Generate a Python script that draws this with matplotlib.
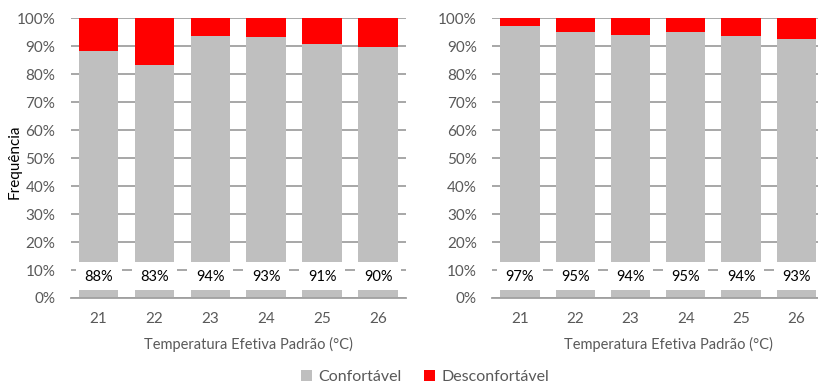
import matplotlib
matplotlib.use("Agg")
import matplotlib.pyplot as plt
import numpy as np

plt.rcParams['font.family'] = ['Lato', 'DejaVu Sans']

categories = ["21", "22", "23", "24", "25", "26"]
conf_left = [88.3, 83.3, 93.7, 93.3, 90.6, 89.6]
conf_right = [97.3, 95.2, 93.8, 95.0, 93.7, 92.6]
yticks = [0, 10, 20, 30, 40, 50, 60, 70, 80, 90, 100]
ytick_labels = [f"{v}%" for v in yticks]

GREY = "#BFBFBF"
RED = "#FF0000"
GRID = "#A0A0A0"
TXT = "#595959"

fig = plt.figure(figsize=(8.18, 3.85), dpi=100)
ax1 = fig.add_axes([0.0864, 0.226, 0.410, 0.727])
ax2 = fig.add_axes([0.6018, 0.226, 0.4056, 0.727])

def draw(ax, conf):
    x = np.arange(len(categories))
    conf = np.array(conf)
    disc = 100 - conf
    ax.bar(x, conf, width=0.71, color=GREY, zorder=2, label="Confortável")
    ax.bar(x, disc, bottom=conf, width=0.71, color=RED, zorder=2, label="Desconfortável")
    # white label backgrounds
    ax.bar(x, 10, bottom=2.9, width=0.82, color="white", zorder=3)
    for xi, v in zip(x, conf):
        ax.text(xi, 7.6, f"{int(round(v))}%", ha="center", va="center",
                fontsize=10.5, color="black", zorder=4)
    ax.set_xlim(-0.5, len(categories) - 0.5)
    ax.set_ylim(0, 100)
    ax.set_yticks(yticks)
    ax.set_yticklabels(ytick_labels)
    ax.set_xticks(x)
    ax.set_xticklabels(categories)
    ax.yaxis.grid(True, color=GRID, linewidth=1.3, zorder=1)
    ax.set_axisbelow(True)
    for s in ["left", "right", "top"]:
        ax.spines[s].set_visible(False)
    ax.spines["bottom"].set_color(GRID)
    ax.spines["bottom"].set_linewidth(1.3)
    ax.spines["bottom"].set_zorder(5)
    ax.tick_params(axis="both", length=0, labelsize=11, colors=TXT)
    ax.tick_params(axis="y", pad=11)
    ax.tick_params(axis="x", pad=10)
    ax.set_xlabel("Temperatura Efetiva Padrão (°C)", fontsize=10.5, color=TXT)
    ax.xaxis.set_label_coords(0.53, -0.14)

draw(ax1, conf_left)
draw(ax2, conf_right)

fig.text(15 / 818, 1 - 162 / 385, "Frequência", rotation=90, ha="center", va="center",
         fontsize=11, color="black")

handles, labels = ax1.get_legend_handles_labels()
fig.legend(handles[:2], labels[:2], loc="lower center", bbox_to_anchor=(0.52, -0.035),
           ncol=2, frameon=False, fontsize=11.5, handlelength=0.7, handleheight=0.7,
           handletextpad=0.4, columnspacing=1.4, labelcolor=TXT)

fig.savefig("out.png", dpi=100)
